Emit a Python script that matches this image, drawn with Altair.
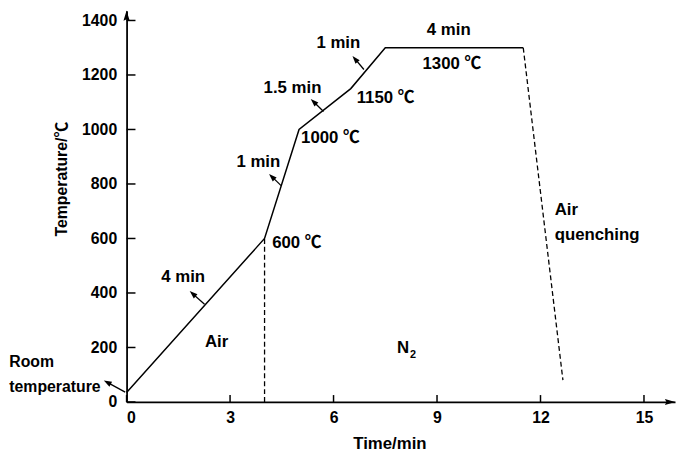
import math
import altair as alt
import pandas as pd

# ---- data ----
line_t = [0, 4, 5, 6.5, 7.5, 11.5]
line_T = [35, 600, 1000, 1150, 1300, 1300]

quench_t = [11.5, 12.65]
quench_T = [1300, 80]

divider_t = [4, 4]
divider_T = [0, 600]

x_ticks = [0, 3, 6, 9, 12, 15]
y_ticks = [0, 200, 400, 600, 800, 1000, 1200, 1400]

label_text = ["Room", "temperature", "4 min", "Air", "600 ℃", "1 min", "1000 ℃",
              "1.5 min", "1150 ℃", "1 min", "4 min", "1300 ℃", "Air", "quenching", "N"]
label_x = [-3.40, -3.40, 1.64, 2.61, 4.22, 3.82, 5.06, 4.81, 6.67, 6.14, 9.34, 8.58, 12.41, 12.41, 7.84]
label_y = [127, 36, 439, 203, 566, 861, 951, 1133, 1096, 1300, 1345, 1223, 686, 595, 178]
label_align = ["left", "left", "center", "center", "left", "center", "left",
               "center", "left", "center", "center", "left", "left", "left", "left"]
label_size = [16, 16, 17, 17, 17, 17, 17, 17, 17, 17, 17, 17, 17, 17, 17]

sub_text = ["2"]
sub_x = [8.22]
sub_y = [160]

arrow_tail_x = [-0.04, 2.26, 4.48, 5.71, 6.88]
arrow_tail_y = [36, 359, 794, 1066, 1220]
arrow_tip_x = [-0.66, 1.83, 4.13, 5.34, 6.55]
arrow_tip_y = [79, 407, 837, 1112, 1270]

# ---- layout ----
W, H = 555, 396
XMAX, YMAX = 15.9, 1436
kx = W / XMAX
ky = H / YMAX
FONT = "Liberation Sans, Arial, Noto Sans CJK SC, DejaVu Sans"

xs = alt.Scale(domain=[0, XMAX], nice=False, zero=False)
ys = alt.Scale(domain=[0, YMAX], nice=False, zero=False)

# arrowhead geometry
head_len = 4.0
heads = []
shafts = []
for tx, ty, px, py in zip(arrow_tail_x, arrow_tail_y, arrow_tip_x, arrow_tip_y):
    dxp = (px - tx) * kx
    dyp = -(py - ty) * ky
    n = math.hypot(dxp, dyp)
    ux, uy = dxp / n, dyp / n
    cx = px - head_len * ux / kx
    cy = py + head_len * uy / ky
    ang = math.degrees(math.atan2(ux, -uy)) % 360
    heads.append({"x": cx, "y": cy, "a": ang})
    shafts.append({"x": tx, "y": ty, "x2": cx, "y2": cy})

df_line = pd.DataFrame({"t": line_t, "T": line_T})
df_q = pd.DataFrame({"t": quench_t, "T": quench_T})
df_d = pd.DataFrame({"t": divider_t, "T": divider_T})
df_lab = pd.DataFrame({"x": label_x, "y": label_y, "text": label_text,
                       "align": label_align, "size": label_size})
df_sub = pd.DataFrame({"x": sub_x, "y": sub_y, "text": sub_text})
df_heads = pd.DataFrame(heads)
df_shafts = pd.DataFrame(shafts)
df_xt = pd.DataFrame({"x": x_ticks, "y": [0] * len(x_ticks), "y2": [7 / ky] * len(x_ticks)})
df_yt = pd.DataFrame({"y": y_ticks, "x": [0] * len(y_ticks), "x2": [9 / kx] * len(y_ticks)})

x_axis = alt.Axis(values=x_ticks, format="d", title="Time/min", grid=False, ticks=False, tickSize=0,
                  domainColor="black", domainWidth=1.8, labelFont=FONT, labelFontSize=16,
                  labelFontWeight="bold", labelColor="black", labelPadding=8,
                  titleFont=FONT, titleFontSize=17, titleFontWeight="bold", titleColor="black",
                  titleX=266, titleY=47, titleBaseline="alphabetic", titleAlign="center")
y_axis = alt.Axis(values=y_ticks, format="d", title="Temperature/℃", grid=False, ticks=False, tickSize=0,
                  domainColor="black", domainWidth=1.8, labelFont=FONT, labelFontSize=16,
                  labelFontWeight="bold", labelColor="black", labelPadding=10,
                  titleFont=FONT, titleFontSize=16, titleFontWeight="bold", titleColor="black",
                  titleX=-66, titleY=170, titleBaseline="middle", titleAlign="center", titleAngle=270)

base_line = alt.Chart(df_line).mark_line(color="black", strokeWidth=1.5).encode(
    x=alt.X("t:Q", scale=xs, axis=x_axis),
    y=alt.Y("T:Q", scale=ys, axis=y_axis),
)

quench = alt.Chart(df_q).mark_line(color="black", strokeWidth=1.3, strokeDash=[5, 3]).encode(
    x=alt.X("t:Q", scale=xs), y=alt.Y("T:Q", scale=ys))
divider = alt.Chart(df_d).mark_line(color="black", strokeWidth=1.3, strokeDash=[5, 3]).encode(
    x=alt.X("t:Q", scale=xs), y=alt.Y("T:Q", scale=ys))

xticks = alt.Chart(df_xt).mark_rule(color="black", strokeWidth=1.5).encode(
    x=alt.X("x:Q", scale=xs), y=alt.Y("y:Q", scale=ys), y2="y2:Q")
yticks = alt.Chart(df_yt).mark_rule(color="black", strokeWidth=1.5).encode(
    x=alt.X("x:Q", scale=xs), x2="x2:Q", y=alt.Y("y:Q", scale=ys))

arrow_path = "M0,-1L0.6,1L0,0.7L-0.6,1Z"
yhead = alt.Chart(pd.DataFrame({"x": [0], "y": [YMAX]})).mark_point(
    shape=arrow_path, filled=True, color="black", size=110, opacity=1, yOffset=5).encode(
    x=alt.X("x:Q", scale=xs), y=alt.Y("y:Q", scale=ys))
xhead = alt.Chart(pd.DataFrame({"x": [XMAX], "y": [0]})).mark_point(
    shape=arrow_path, filled=True, color="black", size=110, opacity=1, angle=90, xOffset=-5).encode(
    x=alt.X("x:Q", scale=xs), y=alt.Y("y:Q", scale=ys))

shafts_l = alt.Chart(df_shafts).mark_rule(color="black", strokeWidth=1.3).encode(
    x=alt.X("x:Q", scale=xs), y=alt.Y("y:Q", scale=ys), x2="x2:Q", y2="y2:Q")
heads_l = alt.Chart(df_heads).mark_point(
    shape="M0,-1L0.7,1L-0.7,1Z", filled=True, color="black", size=64, opacity=1).encode(
    x=alt.X("x:Q", scale=xs), y=alt.Y("y:Q", scale=ys), angle=alt.Angle("a:Q", scale=None))

labels = []
for al in ["left", "center"]:
    labels.append(
        alt.Chart(df_lab[df_lab["align"] == al]).mark_text(
            font=FONT, fontWeight="bold", color="black", align=al,
            baseline="alphabetic").encode(
            x=alt.X("x:Q", scale=xs), y=alt.Y("y:Q", scale=ys), text="text:N",
            size=alt.Size("size:Q", scale=None)))
sub = alt.Chart(df_sub).mark_text(
    font=FONT, fontSize=11, fontWeight="bold", color="black", align="left",
    baseline="alphabetic").encode(
    x=alt.X("x:Q", scale=xs), y=alt.Y("y:Q", scale=ys), text="text:N")

chart = alt.layer(base_line, quench, divider, xticks, yticks, yhead, xhead,
                  shafts_l, heads_l, *labels, sub).properties(
    width=W, height=H,
    autosize=alt.AutoSizeParams(type="none"),
    padding={"left": 120, "top": 0, "right": 2, "bottom": 55},
    background="white",
).configure_view(stroke=None)

chart.save("out.html", embed_options={"renderer": "svg", "actions": False})
